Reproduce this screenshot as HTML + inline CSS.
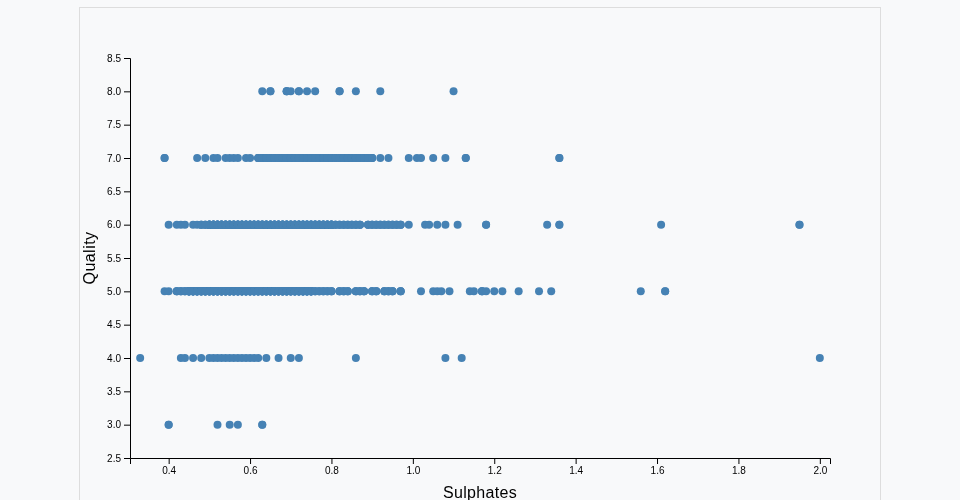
<!DOCTYPE html>
<html lang="en">
<head>
<meta charset="utf-8">
<title>Sulphates vs Quality</title>
<style>
html,body{margin:0;padding:0;}
body{background:#f8f9fa;font-family:"Liberation Sans",sans-serif;color:#000;width:960px;height:500px;overflow:hidden;position:relative;}
#chart{position:absolute;left:79px;top:7px;width:800px;height:500px;border:1px solid #dddddd;background:#f8f9fa;}
svg{display:block;will-change:transform;font-family:"Liberation Sans",sans-serif;}
.axis line,.axis path{stroke:#000;stroke-width:1;fill:none;shape-rendering:auto;}
.axis text{font-size:10px;fill:#000;}
.xaxis text{text-anchor:middle;}
.yaxis text{text-anchor:end;}
.dots circle{fill:#4682b4;}
.label{font-size:16px;fill:#000;text-anchor:middle;}
.lx{letter-spacing:0.3px;}
.ly{letter-spacing:0.45px;}
</style>
</head>
<body>
<div id="chart">
<svg width="800" height="500" viewBox="0 0 800 500">
<g transform="translate(50,50)">
<g class="axis xaxis" transform="translate(0,400)">
<path d="M0.5,6V0.5H700.5V6"/>
<g transform="translate(39.16,0)"><line y2="6"/><text y="9" dy="0.71em">0.4</text></g>
<g transform="translate(120.56,0)"><line y2="6"/><text y="9" dy="0.71em">0.6</text></g>
<g transform="translate(201.95,0)"><line y2="6"/><text y="9" dy="0.71em">0.8</text></g>
<g transform="translate(283.35,0)"><line y2="6"/><text y="9" dy="0.71em">1.0</text></g>
<g transform="translate(364.74,0)"><line y2="6"/><text y="9" dy="0.71em">1.2</text></g>
<g transform="translate(446.14,0)"><line y2="6"/><text y="9" dy="0.71em">1.4</text></g>
<g transform="translate(527.53,0)"><line y2="6"/><text y="9" dy="0.71em">1.6</text></g>
<g transform="translate(608.93,0)"><line y2="6"/><text y="9" dy="0.71em">1.8</text></g>
<g transform="translate(690.33,0)"><line y2="6"/><text y="9" dy="0.71em">2.0</text></g>
</g>
<g class="axis yaxis">
<path d="M-6,400.5H0.5V0.5H-6"/>
<g transform="translate(0,400.50)"><line x2="-6"/><text x="-9" dy="0.32em">2.5</text></g>
<g transform="translate(0,367.17)"><line x2="-6"/><text x="-9" dy="0.32em">3.0</text></g>
<g transform="translate(0,333.83)"><line x2="-6"/><text x="-9" dy="0.32em">3.5</text></g>
<g transform="translate(0,300.50)"><line x2="-6"/><text x="-9" dy="0.32em">4.0</text></g>
<g transform="translate(0,267.17)"><line x2="-6"/><text x="-9" dy="0.32em">4.5</text></g>
<g transform="translate(0,233.83)"><line x2="-6"/><text x="-9" dy="0.32em">5.0</text></g>
<g transform="translate(0,200.50)"><line x2="-6"/><text x="-9" dy="0.32em">5.5</text></g>
<g transform="translate(0,167.17)"><line x2="-6"/><text x="-9" dy="0.32em">6.0</text></g>
<g transform="translate(0,133.83)"><line x2="-6"/><text x="-9" dy="0.32em">6.5</text></g>
<g transform="translate(0,100.50)"><line x2="-6"/><text x="-9" dy="0.32em">7.0</text></g>
<g transform="translate(0,67.17)"><line x2="-6"/><text x="-9" dy="0.32em">7.5</text></g>
<g transform="translate(0,33.83)"><line x2="-6"/><text x="-9" dy="0.32em">8.0</text></g>
<g transform="translate(0,0.50)"><line x2="-6"/><text x="-9" dy="0.32em">8.5</text></g>
</g>
<text class="label lx" x="350" y="440">Sulphates</text>
<text class="label ly" transform="rotate(-90)" x="-200" y="-35">Quality</text>
<g class="dots">
<circle cx="132.27" cy="33.33" r="4"/>
<circle cx="140.41" cy="33.33" r="4"/>
<circle cx="140.41" cy="33.33" r="4"/>
<circle cx="156.69" cy="33.33" r="4"/>
<circle cx="156.69" cy="33.33" r="4"/>
<circle cx="156.69" cy="33.33" r="4"/>
<circle cx="160.76" cy="33.33" r="4"/>
<circle cx="168.90" cy="33.33" r="4"/>
<circle cx="168.90" cy="33.33" r="4"/>
<circle cx="177.03" cy="33.33" r="4"/>
<circle cx="185.17" cy="33.33" r="4"/>
<circle cx="209.59" cy="33.33" r="4"/>
<circle cx="209.59" cy="33.33" r="4"/>
<circle cx="225.87" cy="33.33" r="4"/>
<circle cx="250.29" cy="33.33" r="4"/>
<circle cx="323.55" cy="33.33" r="4"/>
<circle cx="34.59" cy="100.00" r="4"/>
<circle cx="34.59" cy="100.00" r="4"/>
<circle cx="67.15" cy="100.00" r="4"/>
<circle cx="75.29" cy="100.00" r="4"/>
<circle cx="83.43" cy="100.00" r="4"/>
<circle cx="87.50" cy="100.00" r="4"/>
<circle cx="95.64" cy="100.00" r="4"/>
<circle cx="99.71" cy="100.00" r="4"/>
<circle cx="103.78" cy="100.00" r="4"/>
<circle cx="107.85" cy="100.00" r="4"/>
<circle cx="115.99" cy="100.00" r="4"/>
<circle cx="120.06" cy="100.00" r="4"/>
<circle cx="128.20" cy="100.00" r="4"/>
<circle cx="128.20" cy="100.00" r="4"/>
<circle cx="128.20" cy="100.00" r="4"/>
<circle cx="132.27" cy="100.00" r="4"/>
<circle cx="132.27" cy="100.00" r="4"/>
<circle cx="132.27" cy="100.00" r="4"/>
<circle cx="136.34" cy="100.00" r="4"/>
<circle cx="136.34" cy="100.00" r="4"/>
<circle cx="136.34" cy="100.00" r="4"/>
<circle cx="140.41" cy="100.00" r="4"/>
<circle cx="140.41" cy="100.00" r="4"/>
<circle cx="140.41" cy="100.00" r="4"/>
<circle cx="144.48" cy="100.00" r="4"/>
<circle cx="144.48" cy="100.00" r="4"/>
<circle cx="144.48" cy="100.00" r="4"/>
<circle cx="148.55" cy="100.00" r="4"/>
<circle cx="148.55" cy="100.00" r="4"/>
<circle cx="148.55" cy="100.00" r="4"/>
<circle cx="152.62" cy="100.00" r="4"/>
<circle cx="152.62" cy="100.00" r="4"/>
<circle cx="152.62" cy="100.00" r="4"/>
<circle cx="156.69" cy="100.00" r="4"/>
<circle cx="156.69" cy="100.00" r="4"/>
<circle cx="156.69" cy="100.00" r="4"/>
<circle cx="160.76" cy="100.00" r="4"/>
<circle cx="160.76" cy="100.00" r="4"/>
<circle cx="160.76" cy="100.00" r="4"/>
<circle cx="164.83" cy="100.00" r="4"/>
<circle cx="164.83" cy="100.00" r="4"/>
<circle cx="164.83" cy="100.00" r="4"/>
<circle cx="168.90" cy="100.00" r="4"/>
<circle cx="168.90" cy="100.00" r="4"/>
<circle cx="168.90" cy="100.00" r="4"/>
<circle cx="172.97" cy="100.00" r="4"/>
<circle cx="172.97" cy="100.00" r="4"/>
<circle cx="172.97" cy="100.00" r="4"/>
<circle cx="177.03" cy="100.00" r="4"/>
<circle cx="177.03" cy="100.00" r="4"/>
<circle cx="177.03" cy="100.00" r="4"/>
<circle cx="181.10" cy="100.00" r="4"/>
<circle cx="181.10" cy="100.00" r="4"/>
<circle cx="181.10" cy="100.00" r="4"/>
<circle cx="185.17" cy="100.00" r="4"/>
<circle cx="185.17" cy="100.00" r="4"/>
<circle cx="185.17" cy="100.00" r="4"/>
<circle cx="189.24" cy="100.00" r="4"/>
<circle cx="189.24" cy="100.00" r="4"/>
<circle cx="189.24" cy="100.00" r="4"/>
<circle cx="193.31" cy="100.00" r="4"/>
<circle cx="193.31" cy="100.00" r="4"/>
<circle cx="193.31" cy="100.00" r="4"/>
<circle cx="197.38" cy="100.00" r="4"/>
<circle cx="197.38" cy="100.00" r="4"/>
<circle cx="197.38" cy="100.00" r="4"/>
<circle cx="201.45" cy="100.00" r="4"/>
<circle cx="201.45" cy="100.00" r="4"/>
<circle cx="201.45" cy="100.00" r="4"/>
<circle cx="205.52" cy="100.00" r="4"/>
<circle cx="205.52" cy="100.00" r="4"/>
<circle cx="205.52" cy="100.00" r="4"/>
<circle cx="209.59" cy="100.00" r="4"/>
<circle cx="209.59" cy="100.00" r="4"/>
<circle cx="209.59" cy="100.00" r="4"/>
<circle cx="213.66" cy="100.00" r="4"/>
<circle cx="213.66" cy="100.00" r="4"/>
<circle cx="213.66" cy="100.00" r="4"/>
<circle cx="217.73" cy="100.00" r="4"/>
<circle cx="217.73" cy="100.00" r="4"/>
<circle cx="217.73" cy="100.00" r="4"/>
<circle cx="221.80" cy="100.00" r="4"/>
<circle cx="221.80" cy="100.00" r="4"/>
<circle cx="221.80" cy="100.00" r="4"/>
<circle cx="225.87" cy="100.00" r="4"/>
<circle cx="225.87" cy="100.00" r="4"/>
<circle cx="225.87" cy="100.00" r="4"/>
<circle cx="229.94" cy="100.00" r="4"/>
<circle cx="229.94" cy="100.00" r="4"/>
<circle cx="229.94" cy="100.00" r="4"/>
<circle cx="234.01" cy="100.00" r="4"/>
<circle cx="234.01" cy="100.00" r="4"/>
<circle cx="234.01" cy="100.00" r="4"/>
<circle cx="238.08" cy="100.00" r="4"/>
<circle cx="238.08" cy="100.00" r="4"/>
<circle cx="238.08" cy="100.00" r="4"/>
<circle cx="242.15" cy="100.00" r="4"/>
<circle cx="242.15" cy="100.00" r="4"/>
<circle cx="242.15" cy="100.00" r="4"/>
<circle cx="250.29" cy="100.00" r="4"/>
<circle cx="258.43" cy="100.00" r="4"/>
<circle cx="278.78" cy="100.00" r="4"/>
<circle cx="286.92" cy="100.00" r="4"/>
<circle cx="290.99" cy="100.00" r="4"/>
<circle cx="303.20" cy="100.00" r="4"/>
<circle cx="315.41" cy="100.00" r="4"/>
<circle cx="335.76" cy="100.00" r="4"/>
<circle cx="335.76" cy="100.00" r="4"/>
<circle cx="429.36" cy="100.00" r="4"/>
<circle cx="429.36" cy="100.00" r="4"/>
<circle cx="38.66" cy="166.67" r="4"/>
<circle cx="46.80" cy="166.67" r="4"/>
<circle cx="50.87" cy="166.67" r="4"/>
<circle cx="54.94" cy="166.67" r="4"/>
<circle cx="63.08" cy="166.67" r="4"/>
<circle cx="67.15" cy="166.67" r="4"/>
<circle cx="71.22" cy="166.67" r="4"/>
<circle cx="71.22" cy="166.67" r="4"/>
<circle cx="71.22" cy="166.67" r="4"/>
<circle cx="75.29" cy="166.67" r="4"/>
<circle cx="75.29" cy="166.67" r="4"/>
<circle cx="75.29" cy="166.67" r="4"/>
<circle cx="79.36" cy="166.67" r="4"/>
<circle cx="79.36" cy="166.67" r="4"/>
<circle cx="79.36" cy="166.67" r="4"/>
<circle cx="79.36" cy="166.67" r="4"/>
<circle cx="79.36" cy="166.67" r="4"/>
<circle cx="79.36" cy="166.67" r="4"/>
<circle cx="79.36" cy="166.67" r="4"/>
<circle cx="79.36" cy="166.67" r="4"/>
<circle cx="79.36" cy="166.67" r="4"/>
<circle cx="79.36" cy="166.67" r="4"/>
<circle cx="83.43" cy="166.67" r="4"/>
<circle cx="83.43" cy="166.67" r="4"/>
<circle cx="83.43" cy="166.67" r="4"/>
<circle cx="83.43" cy="166.67" r="4"/>
<circle cx="83.43" cy="166.67" r="4"/>
<circle cx="83.43" cy="166.67" r="4"/>
<circle cx="83.43" cy="166.67" r="4"/>
<circle cx="83.43" cy="166.67" r="4"/>
<circle cx="83.43" cy="166.67" r="4"/>
<circle cx="83.43" cy="166.67" r="4"/>
<circle cx="87.50" cy="166.67" r="4"/>
<circle cx="87.50" cy="166.67" r="4"/>
<circle cx="87.50" cy="166.67" r="4"/>
<circle cx="87.50" cy="166.67" r="4"/>
<circle cx="87.50" cy="166.67" r="4"/>
<circle cx="87.50" cy="166.67" r="4"/>
<circle cx="87.50" cy="166.67" r="4"/>
<circle cx="87.50" cy="166.67" r="4"/>
<circle cx="87.50" cy="166.67" r="4"/>
<circle cx="87.50" cy="166.67" r="4"/>
<circle cx="91.57" cy="166.67" r="4"/>
<circle cx="91.57" cy="166.67" r="4"/>
<circle cx="91.57" cy="166.67" r="4"/>
<circle cx="91.57" cy="166.67" r="4"/>
<circle cx="91.57" cy="166.67" r="4"/>
<circle cx="91.57" cy="166.67" r="4"/>
<circle cx="91.57" cy="166.67" r="4"/>
<circle cx="91.57" cy="166.67" r="4"/>
<circle cx="91.57" cy="166.67" r="4"/>
<circle cx="91.57" cy="166.67" r="4"/>
<circle cx="95.64" cy="166.67" r="4"/>
<circle cx="95.64" cy="166.67" r="4"/>
<circle cx="95.64" cy="166.67" r="4"/>
<circle cx="95.64" cy="166.67" r="4"/>
<circle cx="95.64" cy="166.67" r="4"/>
<circle cx="95.64" cy="166.67" r="4"/>
<circle cx="95.64" cy="166.67" r="4"/>
<circle cx="95.64" cy="166.67" r="4"/>
<circle cx="95.64" cy="166.67" r="4"/>
<circle cx="95.64" cy="166.67" r="4"/>
<circle cx="99.71" cy="166.67" r="4"/>
<circle cx="99.71" cy="166.67" r="4"/>
<circle cx="99.71" cy="166.67" r="4"/>
<circle cx="99.71" cy="166.67" r="4"/>
<circle cx="99.71" cy="166.67" r="4"/>
<circle cx="99.71" cy="166.67" r="4"/>
<circle cx="99.71" cy="166.67" r="4"/>
<circle cx="99.71" cy="166.67" r="4"/>
<circle cx="99.71" cy="166.67" r="4"/>
<circle cx="99.71" cy="166.67" r="4"/>
<circle cx="103.78" cy="166.67" r="4"/>
<circle cx="103.78" cy="166.67" r="4"/>
<circle cx="103.78" cy="166.67" r="4"/>
<circle cx="103.78" cy="166.67" r="4"/>
<circle cx="103.78" cy="166.67" r="4"/>
<circle cx="103.78" cy="166.67" r="4"/>
<circle cx="103.78" cy="166.67" r="4"/>
<circle cx="103.78" cy="166.67" r="4"/>
<circle cx="103.78" cy="166.67" r="4"/>
<circle cx="103.78" cy="166.67" r="4"/>
<circle cx="107.85" cy="166.67" r="4"/>
<circle cx="107.85" cy="166.67" r="4"/>
<circle cx="107.85" cy="166.67" r="4"/>
<circle cx="107.85" cy="166.67" r="4"/>
<circle cx="107.85" cy="166.67" r="4"/>
<circle cx="107.85" cy="166.67" r="4"/>
<circle cx="107.85" cy="166.67" r="4"/>
<circle cx="107.85" cy="166.67" r="4"/>
<circle cx="107.85" cy="166.67" r="4"/>
<circle cx="107.85" cy="166.67" r="4"/>
<circle cx="111.92" cy="166.67" r="4"/>
<circle cx="111.92" cy="166.67" r="4"/>
<circle cx="111.92" cy="166.67" r="4"/>
<circle cx="111.92" cy="166.67" r="4"/>
<circle cx="111.92" cy="166.67" r="4"/>
<circle cx="111.92" cy="166.67" r="4"/>
<circle cx="111.92" cy="166.67" r="4"/>
<circle cx="111.92" cy="166.67" r="4"/>
<circle cx="111.92" cy="166.67" r="4"/>
<circle cx="111.92" cy="166.67" r="4"/>
<circle cx="115.99" cy="166.67" r="4"/>
<circle cx="115.99" cy="166.67" r="4"/>
<circle cx="115.99" cy="166.67" r="4"/>
<circle cx="115.99" cy="166.67" r="4"/>
<circle cx="115.99" cy="166.67" r="4"/>
<circle cx="115.99" cy="166.67" r="4"/>
<circle cx="115.99" cy="166.67" r="4"/>
<circle cx="115.99" cy="166.67" r="4"/>
<circle cx="115.99" cy="166.67" r="4"/>
<circle cx="115.99" cy="166.67" r="4"/>
<circle cx="120.06" cy="166.67" r="4"/>
<circle cx="120.06" cy="166.67" r="4"/>
<circle cx="120.06" cy="166.67" r="4"/>
<circle cx="120.06" cy="166.67" r="4"/>
<circle cx="120.06" cy="166.67" r="4"/>
<circle cx="120.06" cy="166.67" r="4"/>
<circle cx="120.06" cy="166.67" r="4"/>
<circle cx="120.06" cy="166.67" r="4"/>
<circle cx="120.06" cy="166.67" r="4"/>
<circle cx="120.06" cy="166.67" r="4"/>
<circle cx="124.13" cy="166.67" r="4"/>
<circle cx="124.13" cy="166.67" r="4"/>
<circle cx="124.13" cy="166.67" r="4"/>
<circle cx="124.13" cy="166.67" r="4"/>
<circle cx="124.13" cy="166.67" r="4"/>
<circle cx="124.13" cy="166.67" r="4"/>
<circle cx="124.13" cy="166.67" r="4"/>
<circle cx="124.13" cy="166.67" r="4"/>
<circle cx="124.13" cy="166.67" r="4"/>
<circle cx="124.13" cy="166.67" r="4"/>
<circle cx="128.20" cy="166.67" r="4"/>
<circle cx="128.20" cy="166.67" r="4"/>
<circle cx="128.20" cy="166.67" r="4"/>
<circle cx="128.20" cy="166.67" r="4"/>
<circle cx="128.20" cy="166.67" r="4"/>
<circle cx="128.20" cy="166.67" r="4"/>
<circle cx="128.20" cy="166.67" r="4"/>
<circle cx="128.20" cy="166.67" r="4"/>
<circle cx="128.20" cy="166.67" r="4"/>
<circle cx="128.20" cy="166.67" r="4"/>
<circle cx="132.27" cy="166.67" r="4"/>
<circle cx="132.27" cy="166.67" r="4"/>
<circle cx="132.27" cy="166.67" r="4"/>
<circle cx="132.27" cy="166.67" r="4"/>
<circle cx="132.27" cy="166.67" r="4"/>
<circle cx="132.27" cy="166.67" r="4"/>
<circle cx="132.27" cy="166.67" r="4"/>
<circle cx="132.27" cy="166.67" r="4"/>
<circle cx="132.27" cy="166.67" r="4"/>
<circle cx="132.27" cy="166.67" r="4"/>
<circle cx="136.34" cy="166.67" r="4"/>
<circle cx="136.34" cy="166.67" r="4"/>
<circle cx="136.34" cy="166.67" r="4"/>
<circle cx="136.34" cy="166.67" r="4"/>
<circle cx="136.34" cy="166.67" r="4"/>
<circle cx="136.34" cy="166.67" r="4"/>
<circle cx="136.34" cy="166.67" r="4"/>
<circle cx="136.34" cy="166.67" r="4"/>
<circle cx="136.34" cy="166.67" r="4"/>
<circle cx="136.34" cy="166.67" r="4"/>
<circle cx="140.41" cy="166.67" r="4"/>
<circle cx="140.41" cy="166.67" r="4"/>
<circle cx="140.41" cy="166.67" r="4"/>
<circle cx="140.41" cy="166.67" r="4"/>
<circle cx="140.41" cy="166.67" r="4"/>
<circle cx="140.41" cy="166.67" r="4"/>
<circle cx="140.41" cy="166.67" r="4"/>
<circle cx="140.41" cy="166.67" r="4"/>
<circle cx="140.41" cy="166.67" r="4"/>
<circle cx="140.41" cy="166.67" r="4"/>
<circle cx="144.48" cy="166.67" r="4"/>
<circle cx="144.48" cy="166.67" r="4"/>
<circle cx="144.48" cy="166.67" r="4"/>
<circle cx="144.48" cy="166.67" r="4"/>
<circle cx="144.48" cy="166.67" r="4"/>
<circle cx="144.48" cy="166.67" r="4"/>
<circle cx="144.48" cy="166.67" r="4"/>
<circle cx="144.48" cy="166.67" r="4"/>
<circle cx="144.48" cy="166.67" r="4"/>
<circle cx="144.48" cy="166.67" r="4"/>
<circle cx="148.55" cy="166.67" r="4"/>
<circle cx="148.55" cy="166.67" r="4"/>
<circle cx="148.55" cy="166.67" r="4"/>
<circle cx="148.55" cy="166.67" r="4"/>
<circle cx="148.55" cy="166.67" r="4"/>
<circle cx="148.55" cy="166.67" r="4"/>
<circle cx="148.55" cy="166.67" r="4"/>
<circle cx="148.55" cy="166.67" r="4"/>
<circle cx="148.55" cy="166.67" r="4"/>
<circle cx="148.55" cy="166.67" r="4"/>
<circle cx="152.62" cy="166.67" r="4"/>
<circle cx="152.62" cy="166.67" r="4"/>
<circle cx="152.62" cy="166.67" r="4"/>
<circle cx="152.62" cy="166.67" r="4"/>
<circle cx="152.62" cy="166.67" r="4"/>
<circle cx="152.62" cy="166.67" r="4"/>
<circle cx="152.62" cy="166.67" r="4"/>
<circle cx="152.62" cy="166.67" r="4"/>
<circle cx="152.62" cy="166.67" r="4"/>
<circle cx="152.62" cy="166.67" r="4"/>
<circle cx="156.69" cy="166.67" r="4"/>
<circle cx="156.69" cy="166.67" r="4"/>
<circle cx="156.69" cy="166.67" r="4"/>
<circle cx="156.69" cy="166.67" r="4"/>
<circle cx="156.69" cy="166.67" r="4"/>
<circle cx="156.69" cy="166.67" r="4"/>
<circle cx="156.69" cy="166.67" r="4"/>
<circle cx="156.69" cy="166.67" r="4"/>
<circle cx="156.69" cy="166.67" r="4"/>
<circle cx="156.69" cy="166.67" r="4"/>
<circle cx="160.76" cy="166.67" r="4"/>
<circle cx="160.76" cy="166.67" r="4"/>
<circle cx="160.76" cy="166.67" r="4"/>
<circle cx="160.76" cy="166.67" r="4"/>
<circle cx="160.76" cy="166.67" r="4"/>
<circle cx="160.76" cy="166.67" r="4"/>
<circle cx="160.76" cy="166.67" r="4"/>
<circle cx="160.76" cy="166.67" r="4"/>
<circle cx="160.76" cy="166.67" r="4"/>
<circle cx="160.76" cy="166.67" r="4"/>
<circle cx="164.83" cy="166.67" r="4"/>
<circle cx="164.83" cy="166.67" r="4"/>
<circle cx="164.83" cy="166.67" r="4"/>
<circle cx="164.83" cy="166.67" r="4"/>
<circle cx="164.83" cy="166.67" r="4"/>
<circle cx="164.83" cy="166.67" r="4"/>
<circle cx="164.83" cy="166.67" r="4"/>
<circle cx="164.83" cy="166.67" r="4"/>
<circle cx="164.83" cy="166.67" r="4"/>
<circle cx="164.83" cy="166.67" r="4"/>
<circle cx="168.90" cy="166.67" r="4"/>
<circle cx="168.90" cy="166.67" r="4"/>
<circle cx="168.90" cy="166.67" r="4"/>
<circle cx="168.90" cy="166.67" r="4"/>
<circle cx="168.90" cy="166.67" r="4"/>
<circle cx="168.90" cy="166.67" r="4"/>
<circle cx="168.90" cy="166.67" r="4"/>
<circle cx="168.90" cy="166.67" r="4"/>
<circle cx="168.90" cy="166.67" r="4"/>
<circle cx="168.90" cy="166.67" r="4"/>
<circle cx="172.97" cy="166.67" r="4"/>
<circle cx="172.97" cy="166.67" r="4"/>
<circle cx="172.97" cy="166.67" r="4"/>
<circle cx="172.97" cy="166.67" r="4"/>
<circle cx="172.97" cy="166.67" r="4"/>
<circle cx="172.97" cy="166.67" r="4"/>
<circle cx="172.97" cy="166.67" r="4"/>
<circle cx="172.97" cy="166.67" r="4"/>
<circle cx="172.97" cy="166.67" r="4"/>
<circle cx="172.97" cy="166.67" r="4"/>
<circle cx="177.03" cy="166.67" r="4"/>
<circle cx="177.03" cy="166.67" r="4"/>
<circle cx="177.03" cy="166.67" r="4"/>
<circle cx="177.03" cy="166.67" r="4"/>
<circle cx="177.03" cy="166.67" r="4"/>
<circle cx="177.03" cy="166.67" r="4"/>
<circle cx="177.03" cy="166.67" r="4"/>
<circle cx="177.03" cy="166.67" r="4"/>
<circle cx="177.03" cy="166.67" r="4"/>
<circle cx="177.03" cy="166.67" r="4"/>
<circle cx="181.10" cy="166.67" r="4"/>
<circle cx="181.10" cy="166.67" r="4"/>
<circle cx="181.10" cy="166.67" r="4"/>
<circle cx="181.10" cy="166.67" r="4"/>
<circle cx="181.10" cy="166.67" r="4"/>
<circle cx="181.10" cy="166.67" r="4"/>
<circle cx="181.10" cy="166.67" r="4"/>
<circle cx="181.10" cy="166.67" r="4"/>
<circle cx="181.10" cy="166.67" r="4"/>
<circle cx="181.10" cy="166.67" r="4"/>
<circle cx="185.17" cy="166.67" r="4"/>
<circle cx="185.17" cy="166.67" r="4"/>
<circle cx="185.17" cy="166.67" r="4"/>
<circle cx="185.17" cy="166.67" r="4"/>
<circle cx="185.17" cy="166.67" r="4"/>
<circle cx="185.17" cy="166.67" r="4"/>
<circle cx="185.17" cy="166.67" r="4"/>
<circle cx="185.17" cy="166.67" r="4"/>
<circle cx="185.17" cy="166.67" r="4"/>
<circle cx="185.17" cy="166.67" r="4"/>
<circle cx="189.24" cy="166.67" r="4"/>
<circle cx="189.24" cy="166.67" r="4"/>
<circle cx="189.24" cy="166.67" r="4"/>
<circle cx="189.24" cy="166.67" r="4"/>
<circle cx="189.24" cy="166.67" r="4"/>
<circle cx="189.24" cy="166.67" r="4"/>
<circle cx="189.24" cy="166.67" r="4"/>
<circle cx="189.24" cy="166.67" r="4"/>
<circle cx="189.24" cy="166.67" r="4"/>
<circle cx="189.24" cy="166.67" r="4"/>
<circle cx="193.31" cy="166.67" r="4"/>
<circle cx="193.31" cy="166.67" r="4"/>
<circle cx="193.31" cy="166.67" r="4"/>
<circle cx="193.31" cy="166.67" r="4"/>
<circle cx="193.31" cy="166.67" r="4"/>
<circle cx="193.31" cy="166.67" r="4"/>
<circle cx="193.31" cy="166.67" r="4"/>
<circle cx="193.31" cy="166.67" r="4"/>
<circle cx="193.31" cy="166.67" r="4"/>
<circle cx="193.31" cy="166.67" r="4"/>
<circle cx="197.38" cy="166.67" r="4"/>
<circle cx="197.38" cy="166.67" r="4"/>
<circle cx="197.38" cy="166.67" r="4"/>
<circle cx="197.38" cy="166.67" r="4"/>
<circle cx="197.38" cy="166.67" r="4"/>
<circle cx="197.38" cy="166.67" r="4"/>
<circle cx="197.38" cy="166.67" r="4"/>
<circle cx="197.38" cy="166.67" r="4"/>
<circle cx="197.38" cy="166.67" r="4"/>
<circle cx="197.38" cy="166.67" r="4"/>
<circle cx="201.45" cy="166.67" r="4"/>
<circle cx="201.45" cy="166.67" r="4"/>
<circle cx="201.45" cy="166.67" r="4"/>
<circle cx="201.45" cy="166.67" r="4"/>
<circle cx="201.45" cy="166.67" r="4"/>
<circle cx="201.45" cy="166.67" r="4"/>
<circle cx="201.45" cy="166.67" r="4"/>
<circle cx="201.45" cy="166.67" r="4"/>
<circle cx="201.45" cy="166.67" r="4"/>
<circle cx="201.45" cy="166.67" r="4"/>
<circle cx="205.52" cy="166.67" r="4"/>
<circle cx="205.52" cy="166.67" r="4"/>
<circle cx="205.52" cy="166.67" r="4"/>
<circle cx="209.59" cy="166.67" r="4"/>
<circle cx="209.59" cy="166.67" r="4"/>
<circle cx="209.59" cy="166.67" r="4"/>
<circle cx="213.66" cy="166.67" r="4"/>
<circle cx="213.66" cy="166.67" r="4"/>
<circle cx="213.66" cy="166.67" r="4"/>
<circle cx="217.73" cy="166.67" r="4"/>
<circle cx="217.73" cy="166.67" r="4"/>
<circle cx="217.73" cy="166.67" r="4"/>
<circle cx="221.80" cy="166.67" r="4"/>
<circle cx="221.80" cy="166.67" r="4"/>
<circle cx="221.80" cy="166.67" r="4"/>
<circle cx="225.87" cy="166.67" r="4"/>
<circle cx="225.87" cy="166.67" r="4"/>
<circle cx="225.87" cy="166.67" r="4"/>
<circle cx="229.94" cy="166.67" r="4"/>
<circle cx="229.94" cy="166.67" r="4"/>
<circle cx="229.94" cy="166.67" r="4"/>
<circle cx="238.08" cy="166.67" r="4"/>
<circle cx="238.08" cy="166.67" r="4"/>
<circle cx="238.08" cy="166.67" r="4"/>
<circle cx="242.15" cy="166.67" r="4"/>
<circle cx="242.15" cy="166.67" r="4"/>
<circle cx="242.15" cy="166.67" r="4"/>
<circle cx="246.22" cy="166.67" r="4"/>
<circle cx="246.22" cy="166.67" r="4"/>
<circle cx="246.22" cy="166.67" r="4"/>
<circle cx="250.29" cy="166.67" r="4"/>
<circle cx="250.29" cy="166.67" r="4"/>
<circle cx="250.29" cy="166.67" r="4"/>
<circle cx="254.36" cy="166.67" r="4"/>
<circle cx="254.36" cy="166.67" r="4"/>
<circle cx="254.36" cy="166.67" r="4"/>
<circle cx="258.43" cy="166.67" r="4"/>
<circle cx="258.43" cy="166.67" r="4"/>
<circle cx="258.43" cy="166.67" r="4"/>
<circle cx="262.50" cy="166.67" r="4"/>
<circle cx="262.50" cy="166.67" r="4"/>
<circle cx="262.50" cy="166.67" r="4"/>
<circle cx="266.57" cy="166.67" r="4"/>
<circle cx="266.57" cy="166.67" r="4"/>
<circle cx="266.57" cy="166.67" r="4"/>
<circle cx="270.64" cy="166.67" r="4"/>
<circle cx="270.64" cy="166.67" r="4"/>
<circle cx="270.64" cy="166.67" r="4"/>
<circle cx="278.78" cy="166.67" r="4"/>
<circle cx="295.06" cy="166.67" r="4"/>
<circle cx="299.13" cy="166.67" r="4"/>
<circle cx="307.27" cy="166.67" r="4"/>
<circle cx="315.41" cy="166.67" r="4"/>
<circle cx="327.62" cy="166.67" r="4"/>
<circle cx="356.10" cy="166.67" r="4"/>
<circle cx="356.10" cy="166.67" r="4"/>
<circle cx="417.15" cy="166.67" r="4"/>
<circle cx="429.36" cy="166.67" r="4"/>
<circle cx="429.36" cy="166.67" r="4"/>
<circle cx="531.10" cy="166.67" r="4"/>
<circle cx="669.48" cy="166.67" r="4"/>
<circle cx="669.48" cy="166.67" r="4"/>
<circle cx="34.59" cy="233.33" r="4"/>
<circle cx="38.66" cy="233.33" r="4"/>
<circle cx="46.80" cy="233.33" r="4"/>
<circle cx="46.80" cy="233.33" r="4"/>
<circle cx="46.80" cy="233.33" r="4"/>
<circle cx="50.87" cy="233.33" r="4"/>
<circle cx="50.87" cy="233.33" r="4"/>
<circle cx="50.87" cy="233.33" r="4"/>
<circle cx="54.94" cy="233.33" r="4"/>
<circle cx="54.94" cy="233.33" r="4"/>
<circle cx="54.94" cy="233.33" r="4"/>
<circle cx="59.01" cy="233.33" r="4"/>
<circle cx="59.01" cy="233.33" r="4"/>
<circle cx="59.01" cy="233.33" r="4"/>
<circle cx="59.01" cy="233.33" r="4"/>
<circle cx="59.01" cy="233.33" r="4"/>
<circle cx="59.01" cy="233.33" r="4"/>
<circle cx="59.01" cy="233.33" r="4"/>
<circle cx="59.01" cy="233.33" r="4"/>
<circle cx="59.01" cy="233.33" r="4"/>
<circle cx="59.01" cy="233.33" r="4"/>
<circle cx="63.08" cy="233.33" r="4"/>
<circle cx="63.08" cy="233.33" r="4"/>
<circle cx="63.08" cy="233.33" r="4"/>
<circle cx="63.08" cy="233.33" r="4"/>
<circle cx="63.08" cy="233.33" r="4"/>
<circle cx="63.08" cy="233.33" r="4"/>
<circle cx="63.08" cy="233.33" r="4"/>
<circle cx="63.08" cy="233.33" r="4"/>
<circle cx="63.08" cy="233.33" r="4"/>
<circle cx="63.08" cy="233.33" r="4"/>
<circle cx="67.15" cy="233.33" r="4"/>
<circle cx="67.15" cy="233.33" r="4"/>
<circle cx="67.15" cy="233.33" r="4"/>
<circle cx="67.15" cy="233.33" r="4"/>
<circle cx="67.15" cy="233.33" r="4"/>
<circle cx="67.15" cy="233.33" r="4"/>
<circle cx="67.15" cy="233.33" r="4"/>
<circle cx="67.15" cy="233.33" r="4"/>
<circle cx="67.15" cy="233.33" r="4"/>
<circle cx="67.15" cy="233.33" r="4"/>
<circle cx="71.22" cy="233.33" r="4"/>
<circle cx="71.22" cy="233.33" r="4"/>
<circle cx="71.22" cy="233.33" r="4"/>
<circle cx="71.22" cy="233.33" r="4"/>
<circle cx="71.22" cy="233.33" r="4"/>
<circle cx="71.22" cy="233.33" r="4"/>
<circle cx="71.22" cy="233.33" r="4"/>
<circle cx="71.22" cy="233.33" r="4"/>
<circle cx="71.22" cy="233.33" r="4"/>
<circle cx="71.22" cy="233.33" r="4"/>
<circle cx="75.29" cy="233.33" r="4"/>
<circle cx="75.29" cy="233.33" r="4"/>
<circle cx="75.29" cy="233.33" r="4"/>
<circle cx="75.29" cy="233.33" r="4"/>
<circle cx="75.29" cy="233.33" r="4"/>
<circle cx="75.29" cy="233.33" r="4"/>
<circle cx="75.29" cy="233.33" r="4"/>
<circle cx="75.29" cy="233.33" r="4"/>
<circle cx="75.29" cy="233.33" r="4"/>
<circle cx="75.29" cy="233.33" r="4"/>
<circle cx="79.36" cy="233.33" r="4"/>
<circle cx="79.36" cy="233.33" r="4"/>
<circle cx="79.36" cy="233.33" r="4"/>
<circle cx="79.36" cy="233.33" r="4"/>
<circle cx="79.36" cy="233.33" r="4"/>
<circle cx="79.36" cy="233.33" r="4"/>
<circle cx="79.36" cy="233.33" r="4"/>
<circle cx="79.36" cy="233.33" r="4"/>
<circle cx="79.36" cy="233.33" r="4"/>
<circle cx="79.36" cy="233.33" r="4"/>
<circle cx="83.43" cy="233.33" r="4"/>
<circle cx="83.43" cy="233.33" r="4"/>
<circle cx="83.43" cy="233.33" r="4"/>
<circle cx="83.43" cy="233.33" r="4"/>
<circle cx="83.43" cy="233.33" r="4"/>
<circle cx="83.43" cy="233.33" r="4"/>
<circle cx="83.43" cy="233.33" r="4"/>
<circle cx="83.43" cy="233.33" r="4"/>
<circle cx="83.43" cy="233.33" r="4"/>
<circle cx="83.43" cy="233.33" r="4"/>
<circle cx="87.50" cy="233.33" r="4"/>
<circle cx="87.50" cy="233.33" r="4"/>
<circle cx="87.50" cy="233.33" r="4"/>
<circle cx="87.50" cy="233.33" r="4"/>
<circle cx="87.50" cy="233.33" r="4"/>
<circle cx="87.50" cy="233.33" r="4"/>
<circle cx="87.50" cy="233.33" r="4"/>
<circle cx="87.50" cy="233.33" r="4"/>
<circle cx="87.50" cy="233.33" r="4"/>
<circle cx="87.50" cy="233.33" r="4"/>
<circle cx="91.57" cy="233.33" r="4"/>
<circle cx="91.57" cy="233.33" r="4"/>
<circle cx="91.57" cy="233.33" r="4"/>
<circle cx="91.57" cy="233.33" r="4"/>
<circle cx="91.57" cy="233.33" r="4"/>
<circle cx="91.57" cy="233.33" r="4"/>
<circle cx="91.57" cy="233.33" r="4"/>
<circle cx="91.57" cy="233.33" r="4"/>
<circle cx="91.57" cy="233.33" r="4"/>
<circle cx="91.57" cy="233.33" r="4"/>
<circle cx="95.64" cy="233.33" r="4"/>
<circle cx="95.64" cy="233.33" r="4"/>
<circle cx="95.64" cy="233.33" r="4"/>
<circle cx="95.64" cy="233.33" r="4"/>
<circle cx="95.64" cy="233.33" r="4"/>
<circle cx="95.64" cy="233.33" r="4"/>
<circle cx="95.64" cy="233.33" r="4"/>
<circle cx="95.64" cy="233.33" r="4"/>
<circle cx="95.64" cy="233.33" r="4"/>
<circle cx="95.64" cy="233.33" r="4"/>
<circle cx="99.71" cy="233.33" r="4"/>
<circle cx="99.71" cy="233.33" r="4"/>
<circle cx="99.71" cy="233.33" r="4"/>
<circle cx="99.71" cy="233.33" r="4"/>
<circle cx="99.71" cy="233.33" r="4"/>
<circle cx="99.71" cy="233.33" r="4"/>
<circle cx="99.71" cy="233.33" r="4"/>
<circle cx="99.71" cy="233.33" r="4"/>
<circle cx="99.71" cy="233.33" r="4"/>
<circle cx="99.71" cy="233.33" r="4"/>
<circle cx="103.78" cy="233.33" r="4"/>
<circle cx="103.78" cy="233.33" r="4"/>
<circle cx="103.78" cy="233.33" r="4"/>
<circle cx="103.78" cy="233.33" r="4"/>
<circle cx="103.78" cy="233.33" r="4"/>
<circle cx="103.78" cy="233.33" r="4"/>
<circle cx="103.78" cy="233.33" r="4"/>
<circle cx="103.78" cy="233.33" r="4"/>
<circle cx="103.78" cy="233.33" r="4"/>
<circle cx="103.78" cy="233.33" r="4"/>
<circle cx="107.85" cy="233.33" r="4"/>
<circle cx="107.85" cy="233.33" r="4"/>
<circle cx="107.85" cy="233.33" r="4"/>
<circle cx="107.85" cy="233.33" r="4"/>
<circle cx="107.85" cy="233.33" r="4"/>
<circle cx="107.85" cy="233.33" r="4"/>
<circle cx="107.85" cy="233.33" r="4"/>
<circle cx="107.85" cy="233.33" r="4"/>
<circle cx="107.85" cy="233.33" r="4"/>
<circle cx="107.85" cy="233.33" r="4"/>
<circle cx="111.92" cy="233.33" r="4"/>
<circle cx="111.92" cy="233.33" r="4"/>
<circle cx="111.92" cy="233.33" r="4"/>
<circle cx="111.92" cy="233.33" r="4"/>
<circle cx="111.92" cy="233.33" r="4"/>
<circle cx="111.92" cy="233.33" r="4"/>
<circle cx="111.92" cy="233.33" r="4"/>
<circle cx="111.92" cy="233.33" r="4"/>
<circle cx="111.92" cy="233.33" r="4"/>
<circle cx="111.92" cy="233.33" r="4"/>
<circle cx="115.99" cy="233.33" r="4"/>
<circle cx="115.99" cy="233.33" r="4"/>
<circle cx="115.99" cy="233.33" r="4"/>
<circle cx="115.99" cy="233.33" r="4"/>
<circle cx="115.99" cy="233.33" r="4"/>
<circle cx="115.99" cy="233.33" r="4"/>
<circle cx="115.99" cy="233.33" r="4"/>
<circle cx="115.99" cy="233.33" r="4"/>
<circle cx="115.99" cy="233.33" r="4"/>
<circle cx="115.99" cy="233.33" r="4"/>
<circle cx="120.06" cy="233.33" r="4"/>
<circle cx="120.06" cy="233.33" r="4"/>
<circle cx="120.06" cy="233.33" r="4"/>
<circle cx="120.06" cy="233.33" r="4"/>
<circle cx="120.06" cy="233.33" r="4"/>
<circle cx="120.06" cy="233.33" r="4"/>
<circle cx="120.06" cy="233.33" r="4"/>
<circle cx="120.06" cy="233.33" r="4"/>
<circle cx="120.06" cy="233.33" r="4"/>
<circle cx="120.06" cy="233.33" r="4"/>
<circle cx="124.13" cy="233.33" r="4"/>
<circle cx="124.13" cy="233.33" r="4"/>
<circle cx="124.13" cy="233.33" r="4"/>
<circle cx="124.13" cy="233.33" r="4"/>
<circle cx="124.13" cy="233.33" r="4"/>
<circle cx="124.13" cy="233.33" r="4"/>
<circle cx="124.13" cy="233.33" r="4"/>
<circle cx="124.13" cy="233.33" r="4"/>
<circle cx="124.13" cy="233.33" r="4"/>
<circle cx="124.13" cy="233.33" r="4"/>
<circle cx="128.20" cy="233.33" r="4"/>
<circle cx="128.20" cy="233.33" r="4"/>
<circle cx="128.20" cy="233.33" r="4"/>
<circle cx="128.20" cy="233.33" r="4"/>
<circle cx="128.20" cy="233.33" r="4"/>
<circle cx="128.20" cy="233.33" r="4"/>
<circle cx="128.20" cy="233.33" r="4"/>
<circle cx="128.20" cy="233.33" r="4"/>
<circle cx="128.20" cy="233.33" r="4"/>
<circle cx="128.20" cy="233.33" r="4"/>
<circle cx="132.27" cy="233.33" r="4"/>
<circle cx="132.27" cy="233.33" r="4"/>
<circle cx="132.27" cy="233.33" r="4"/>
<circle cx="132.27" cy="233.33" r="4"/>
<circle cx="132.27" cy="233.33" r="4"/>
<circle cx="132.27" cy="233.33" r="4"/>
<circle cx="132.27" cy="233.33" r="4"/>
<circle cx="132.27" cy="233.33" r="4"/>
<circle cx="132.27" cy="233.33" r="4"/>
<circle cx="132.27" cy="233.33" r="4"/>
<circle cx="136.34" cy="233.33" r="4"/>
<circle cx="136.34" cy="233.33" r="4"/>
<circle cx="136.34" cy="233.33" r="4"/>
<circle cx="136.34" cy="233.33" r="4"/>
<circle cx="136.34" cy="233.33" r="4"/>
<circle cx="136.34" cy="233.33" r="4"/>
<circle cx="136.34" cy="233.33" r="4"/>
<circle cx="136.34" cy="233.33" r="4"/>
<circle cx="136.34" cy="233.33" r="4"/>
<circle cx="136.34" cy="233.33" r="4"/>
<circle cx="140.41" cy="233.33" r="4"/>
<circle cx="140.41" cy="233.33" r="4"/>
<circle cx="140.41" cy="233.33" r="4"/>
<circle cx="140.41" cy="233.33" r="4"/>
<circle cx="140.41" cy="233.33" r="4"/>
<circle cx="140.41" cy="233.33" r="4"/>
<circle cx="140.41" cy="233.33" r="4"/>
<circle cx="140.41" cy="233.33" r="4"/>
<circle cx="140.41" cy="233.33" r="4"/>
<circle cx="140.41" cy="233.33" r="4"/>
<circle cx="144.48" cy="233.33" r="4"/>
<circle cx="144.48" cy="233.33" r="4"/>
<circle cx="144.48" cy="233.33" r="4"/>
<circle cx="144.48" cy="233.33" r="4"/>
<circle cx="144.48" cy="233.33" r="4"/>
<circle cx="144.48" cy="233.33" r="4"/>
<circle cx="144.48" cy="233.33" r="4"/>
<circle cx="144.48" cy="233.33" r="4"/>
<circle cx="144.48" cy="233.33" r="4"/>
<circle cx="144.48" cy="233.33" r="4"/>
<circle cx="148.55" cy="233.33" r="4"/>
<circle cx="148.55" cy="233.33" r="4"/>
<circle cx="148.55" cy="233.33" r="4"/>
<circle cx="148.55" cy="233.33" r="4"/>
<circle cx="148.55" cy="233.33" r="4"/>
<circle cx="148.55" cy="233.33" r="4"/>
<circle cx="148.55" cy="233.33" r="4"/>
<circle cx="148.55" cy="233.33" r="4"/>
<circle cx="148.55" cy="233.33" r="4"/>
<circle cx="148.55" cy="233.33" r="4"/>
<circle cx="152.62" cy="233.33" r="4"/>
<circle cx="152.62" cy="233.33" r="4"/>
<circle cx="152.62" cy="233.33" r="4"/>
<circle cx="152.62" cy="233.33" r="4"/>
<circle cx="152.62" cy="233.33" r="4"/>
<circle cx="152.62" cy="233.33" r="4"/>
<circle cx="152.62" cy="233.33" r="4"/>
<circle cx="152.62" cy="233.33" r="4"/>
<circle cx="152.62" cy="233.33" r="4"/>
<circle cx="152.62" cy="233.33" r="4"/>
<circle cx="156.69" cy="233.33" r="4"/>
<circle cx="156.69" cy="233.33" r="4"/>
<circle cx="156.69" cy="233.33" r="4"/>
<circle cx="156.69" cy="233.33" r="4"/>
<circle cx="156.69" cy="233.33" r="4"/>
<circle cx="156.69" cy="233.33" r="4"/>
<circle cx="156.69" cy="233.33" r="4"/>
<circle cx="156.69" cy="233.33" r="4"/>
<circle cx="156.69" cy="233.33" r="4"/>
<circle cx="156.69" cy="233.33" r="4"/>
<circle cx="160.76" cy="233.33" r="4"/>
<circle cx="160.76" cy="233.33" r="4"/>
<circle cx="160.76" cy="233.33" r="4"/>
<circle cx="160.76" cy="233.33" r="4"/>
<circle cx="160.76" cy="233.33" r="4"/>
<circle cx="160.76" cy="233.33" r="4"/>
<circle cx="160.76" cy="233.33" r="4"/>
<circle cx="160.76" cy="233.33" r="4"/>
<circle cx="160.76" cy="233.33" r="4"/>
<circle cx="160.76" cy="233.33" r="4"/>
<circle cx="164.83" cy="233.33" r="4"/>
<circle cx="164.83" cy="233.33" r="4"/>
<circle cx="164.83" cy="233.33" r="4"/>
<circle cx="164.83" cy="233.33" r="4"/>
<circle cx="164.83" cy="233.33" r="4"/>
<circle cx="164.83" cy="233.33" r="4"/>
<circle cx="164.83" cy="233.33" r="4"/>
<circle cx="164.83" cy="233.33" r="4"/>
<circle cx="164.83" cy="233.33" r="4"/>
<circle cx="164.83" cy="233.33" r="4"/>
<circle cx="168.90" cy="233.33" r="4"/>
<circle cx="168.90" cy="233.33" r="4"/>
<circle cx="168.90" cy="233.33" r="4"/>
<circle cx="168.90" cy="233.33" r="4"/>
<circle cx="168.90" cy="233.33" r="4"/>
<circle cx="168.90" cy="233.33" r="4"/>
<circle cx="168.90" cy="233.33" r="4"/>
<circle cx="168.90" cy="233.33" r="4"/>
<circle cx="168.90" cy="233.33" r="4"/>
<circle cx="168.90" cy="233.33" r="4"/>
<circle cx="172.97" cy="233.33" r="4"/>
<circle cx="172.97" cy="233.33" r="4"/>
<circle cx="172.97" cy="233.33" r="4"/>
<circle cx="172.97" cy="233.33" r="4"/>
<circle cx="172.97" cy="233.33" r="4"/>
<circle cx="172.97" cy="233.33" r="4"/>
<circle cx="172.97" cy="233.33" r="4"/>
<circle cx="172.97" cy="233.33" r="4"/>
<circle cx="172.97" cy="233.33" r="4"/>
<circle cx="172.97" cy="233.33" r="4"/>
<circle cx="177.03" cy="233.33" r="4"/>
<circle cx="177.03" cy="233.33" r="4"/>
<circle cx="177.03" cy="233.33" r="4"/>
<circle cx="177.03" cy="233.33" r="4"/>
<circle cx="177.03" cy="233.33" r="4"/>
<circle cx="177.03" cy="233.33" r="4"/>
<circle cx="177.03" cy="233.33" r="4"/>
<circle cx="177.03" cy="233.33" r="4"/>
<circle cx="177.03" cy="233.33" r="4"/>
<circle cx="177.03" cy="233.33" r="4"/>
<circle cx="181.10" cy="233.33" r="4"/>
<circle cx="181.10" cy="233.33" r="4"/>
<circle cx="181.10" cy="233.33" r="4"/>
<circle cx="181.10" cy="233.33" r="4"/>
<circle cx="181.10" cy="233.33" r="4"/>
<circle cx="181.10" cy="233.33" r="4"/>
<circle cx="181.10" cy="233.33" r="4"/>
<circle cx="181.10" cy="233.33" r="4"/>
<circle cx="181.10" cy="233.33" r="4"/>
<circle cx="181.10" cy="233.33" r="4"/>
<circle cx="185.17" cy="233.33" r="4"/>
<circle cx="185.17" cy="233.33" r="4"/>
<circle cx="185.17" cy="233.33" r="4"/>
<circle cx="189.24" cy="233.33" r="4"/>
<circle cx="189.24" cy="233.33" r="4"/>
<circle cx="189.24" cy="233.33" r="4"/>
<circle cx="193.31" cy="233.33" r="4"/>
<circle cx="193.31" cy="233.33" r="4"/>
<circle cx="193.31" cy="233.33" r="4"/>
<circle cx="197.38" cy="233.33" r="4"/>
<circle cx="197.38" cy="233.33" r="4"/>
<circle cx="197.38" cy="233.33" r="4"/>
<circle cx="201.45" cy="233.33" r="4"/>
<circle cx="201.45" cy="233.33" r="4"/>
<circle cx="201.45" cy="233.33" r="4"/>
<circle cx="209.59" cy="233.33" r="4"/>
<circle cx="209.59" cy="233.33" r="4"/>
<circle cx="209.59" cy="233.33" r="4"/>
<circle cx="213.66" cy="233.33" r="4"/>
<circle cx="213.66" cy="233.33" r="4"/>
<circle cx="213.66" cy="233.33" r="4"/>
<circle cx="217.73" cy="233.33" r="4"/>
<circle cx="217.73" cy="233.33" r="4"/>
<circle cx="217.73" cy="233.33" r="4"/>
<circle cx="225.87" cy="233.33" r="4"/>
<circle cx="225.87" cy="233.33" r="4"/>
<circle cx="225.87" cy="233.33" r="4"/>
<circle cx="229.94" cy="233.33" r="4"/>
<circle cx="229.94" cy="233.33" r="4"/>
<circle cx="229.94" cy="233.33" r="4"/>
<circle cx="234.01" cy="233.33" r="4"/>
<circle cx="234.01" cy="233.33" r="4"/>
<circle cx="234.01" cy="233.33" r="4"/>
<circle cx="242.15" cy="233.33" r="4"/>
<circle cx="242.15" cy="233.33" r="4"/>
<circle cx="242.15" cy="233.33" r="4"/>
<circle cx="246.22" cy="233.33" r="4"/>
<circle cx="246.22" cy="233.33" r="4"/>
<circle cx="246.22" cy="233.33" r="4"/>
<circle cx="254.36" cy="233.33" r="4"/>
<circle cx="254.36" cy="233.33" r="4"/>
<circle cx="254.36" cy="233.33" r="4"/>
<circle cx="258.43" cy="233.33" r="4"/>
<circle cx="258.43" cy="233.33" r="4"/>
<circle cx="258.43" cy="233.33" r="4"/>
<circle cx="262.50" cy="233.33" r="4"/>
<circle cx="262.50" cy="233.33" r="4"/>
<circle cx="262.50" cy="233.33" r="4"/>
<circle cx="270.64" cy="233.33" r="4"/>
<circle cx="270.64" cy="233.33" r="4"/>
<circle cx="270.64" cy="233.33" r="4"/>
<circle cx="290.99" cy="233.33" r="4"/>
<circle cx="303.20" cy="233.33" r="4"/>
<circle cx="307.27" cy="233.33" r="4"/>
<circle cx="311.34" cy="233.33" r="4"/>
<circle cx="319.48" cy="233.33" r="4"/>
<circle cx="339.83" cy="233.33" r="4"/>
<circle cx="343.90" cy="233.33" r="4"/>
<circle cx="352.03" cy="233.33" r="4"/>
<circle cx="352.03" cy="233.33" r="4"/>
<circle cx="352.03" cy="233.33" r="4"/>
<circle cx="356.10" cy="233.33" r="4"/>
<circle cx="364.24" cy="233.33" r="4"/>
<circle cx="372.38" cy="233.33" r="4"/>
<circle cx="388.66" cy="233.33" r="4"/>
<circle cx="409.01" cy="233.33" r="4"/>
<circle cx="421.22" cy="233.33" r="4"/>
<circle cx="510.76" cy="233.33" r="4"/>
<circle cx="535.17" cy="233.33" r="4"/>
<circle cx="535.17" cy="233.33" r="4"/>
<circle cx="10.17" cy="300.00" r="4"/>
<circle cx="50.87" cy="300.00" r="4"/>
<circle cx="54.94" cy="300.00" r="4"/>
<circle cx="63.08" cy="300.00" r="4"/>
<circle cx="71.22" cy="300.00" r="4"/>
<circle cx="79.36" cy="300.00" r="4"/>
<circle cx="83.43" cy="300.00" r="4"/>
<circle cx="87.50" cy="300.00" r="4"/>
<circle cx="91.57" cy="300.00" r="4"/>
<circle cx="95.64" cy="300.00" r="4"/>
<circle cx="99.71" cy="300.00" r="4"/>
<circle cx="103.78" cy="300.00" r="4"/>
<circle cx="107.85" cy="300.00" r="4"/>
<circle cx="111.92" cy="300.00" r="4"/>
<circle cx="115.99" cy="300.00" r="4"/>
<circle cx="120.06" cy="300.00" r="4"/>
<circle cx="124.13" cy="300.00" r="4"/>
<circle cx="128.20" cy="300.00" r="4"/>
<circle cx="136.34" cy="300.00" r="4"/>
<circle cx="148.55" cy="300.00" r="4"/>
<circle cx="160.76" cy="300.00" r="4"/>
<circle cx="168.90" cy="300.00" r="4"/>
<circle cx="225.87" cy="300.00" r="4"/>
<circle cx="315.41" cy="300.00" r="4"/>
<circle cx="331.69" cy="300.00" r="4"/>
<circle cx="689.83" cy="300.00" r="4"/>
<circle cx="38.66" cy="366.67" r="4"/>
<circle cx="38.66" cy="366.67" r="4"/>
<circle cx="87.50" cy="366.67" r="4"/>
<circle cx="99.71" cy="366.67" r="4"/>
<circle cx="107.85" cy="366.67" r="4"/>
<circle cx="132.27" cy="366.67" r="4"/>
<circle cx="132.27" cy="366.67" r="4"/>
</g>
</g>
</svg>
</div>
</body>
</html>
